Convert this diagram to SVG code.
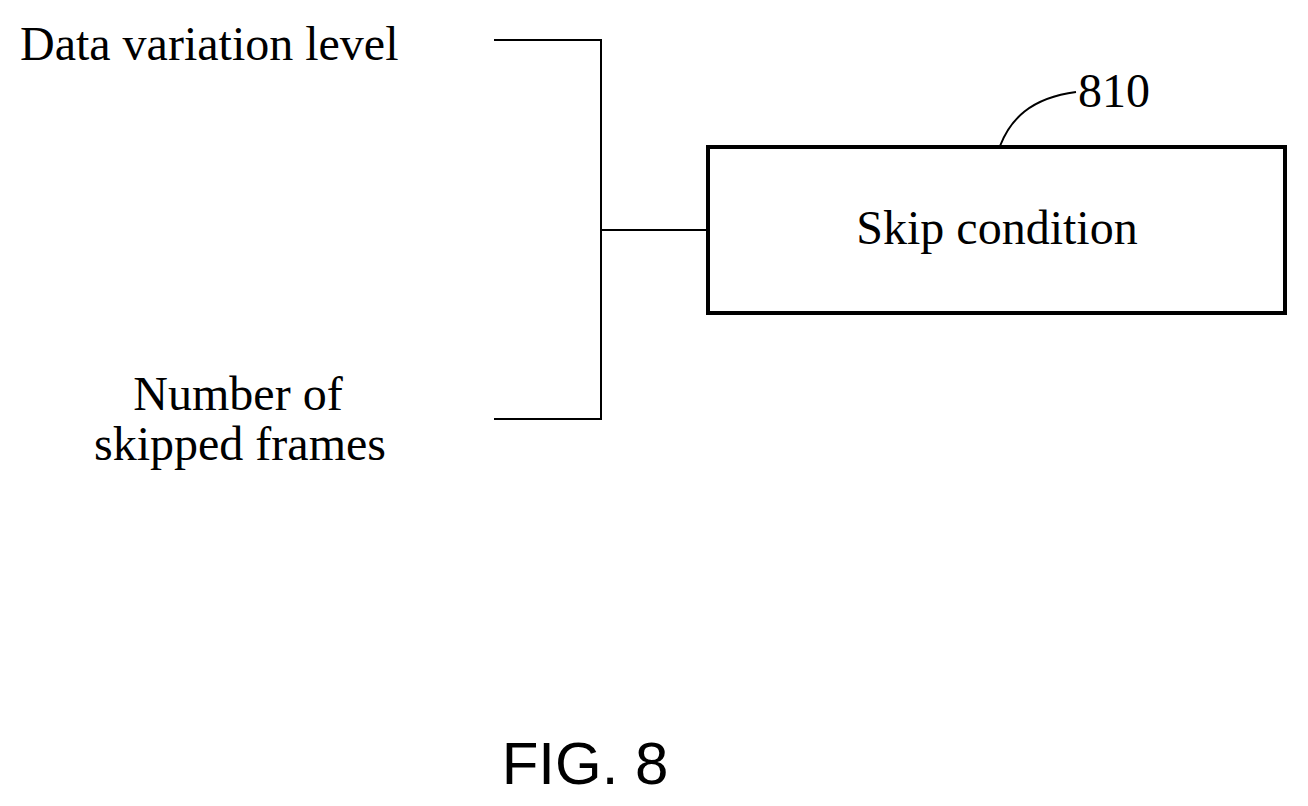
<svg xmlns="http://www.w3.org/2000/svg" width="1308" height="806" viewBox="0 0 1308 806">
<style>
.t{font-family:"Liberation Serif",serif;font-size:48px;fill:#000}
.l{fill:none;stroke:#000;stroke-width:2}
</style>
<rect width="1308" height="806" fill="#fff"/>
<g id="n1"><text class="t" x="20" y="60">Data variation level</text></g>
<g id="n2"><text class="t" x="238" y="410" text-anchor="middle">Number of</text><text class="t" x="240" y="460" text-anchor="middle">skipped frames</text></g>
<g id="n3"><rect x="708" y="147" width="577" height="166" fill="none" stroke="#000" stroke-width="4"/><text class="t" x="997" y="244" text-anchor="middle">Skip condition</text></g>
<g id="lbl"><text class="t" x="1078" y="107">810</text><path class="l" d="M1000 146 C1010 120,1030 98,1076 92"/></g>
<g id="connectors"><path class="l" d="M494 40 H601 V419 H494 M601 230 H708"/></g>
<text x="585" y="784" text-anchor="middle" style="font-family:'Liberation Sans',sans-serif;font-size:60px">FIG. 8</text>
</svg>
